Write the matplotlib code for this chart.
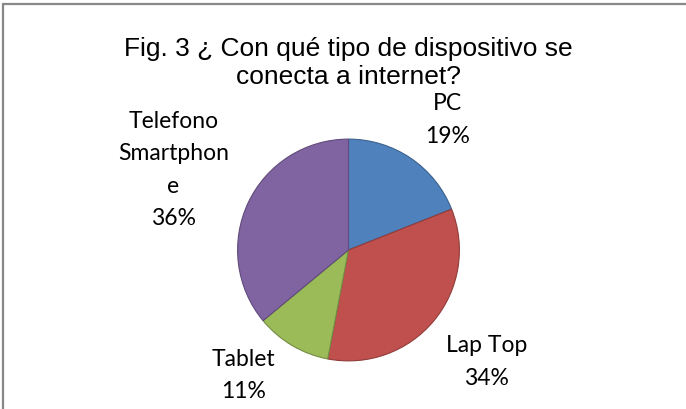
import matplotlib
matplotlib.use('Agg')
import matplotlib.pyplot as plt
from matplotlib.patches import Rectangle
from matplotlib.colors import to_rgb


# data
categories = ['PC', 'Lap Top', 'Tablet', 'Telefono\nSmartphon\ne']
values = [19, 34, 11, 36]
colors = ['#4F81BD', '#C0504D', '#9BBB59', '#8064A2']
title = 'Fig. 3 ¿ Con qué tipo de dispositivo se\nconecta a internet?'

# where Excel put each label (axes data units, pie radius = 1)
label_pos = [(0.89, 1.17), (1.245, -1.01), (-0.95, -1.13), (-1.58, 0.72)]


def darker(c, f=0.75):
    r, g, b = to_rgb(c)
    return (r * f, g * f, b * f)


W, H = 686, 409
fig = plt.figure(figsize=(W / 100, H / 100), dpi=100)

# light grey frame as in the original screenshot
fig.add_artist(Rectangle((3 / W, -0.1), 1.2, 1 - 3.5 / H + 0.1,
                         transform=fig.transFigure, fill=False,
                         edgecolor='#888888', linewidth=1.6))

cx, cy, r = 348.5, 250, 112
ax = fig.add_axes([(cx - r) / W, 1 - (cy + r) / H, 2 * r / W, 2 * r / H])
wedges, _ = ax.pie(values, colors=colors, startangle=90, counterclock=False,
                   radius=1, wedgeprops=dict(linewidth=0.8))
for w, c in zip(wedges, colors):
    w.set_edgecolor(darker(c))
ax.set_xlim(-1.01, 1.01)
ax.set_ylim(-1.01, 1.01)
ax.axis('off')

total = sum(values)
for name, v, (x, y) in zip(categories, values, label_pos):
    ax.text(x, y, '%s\n%d%%' % (name, round(100 * v / total)),
            ha='center', va='center', fontsize=16.5, linespacing=1.68,
            family='Lato', color='black', clip_on=False)

fig.text(348 / W, 1 - 63 / H, title, ha='center', va='center',
         fontsize=19, family='Liberation Sans', linespacing=1.18)

fig.savefig('out.png', dpi=100)
